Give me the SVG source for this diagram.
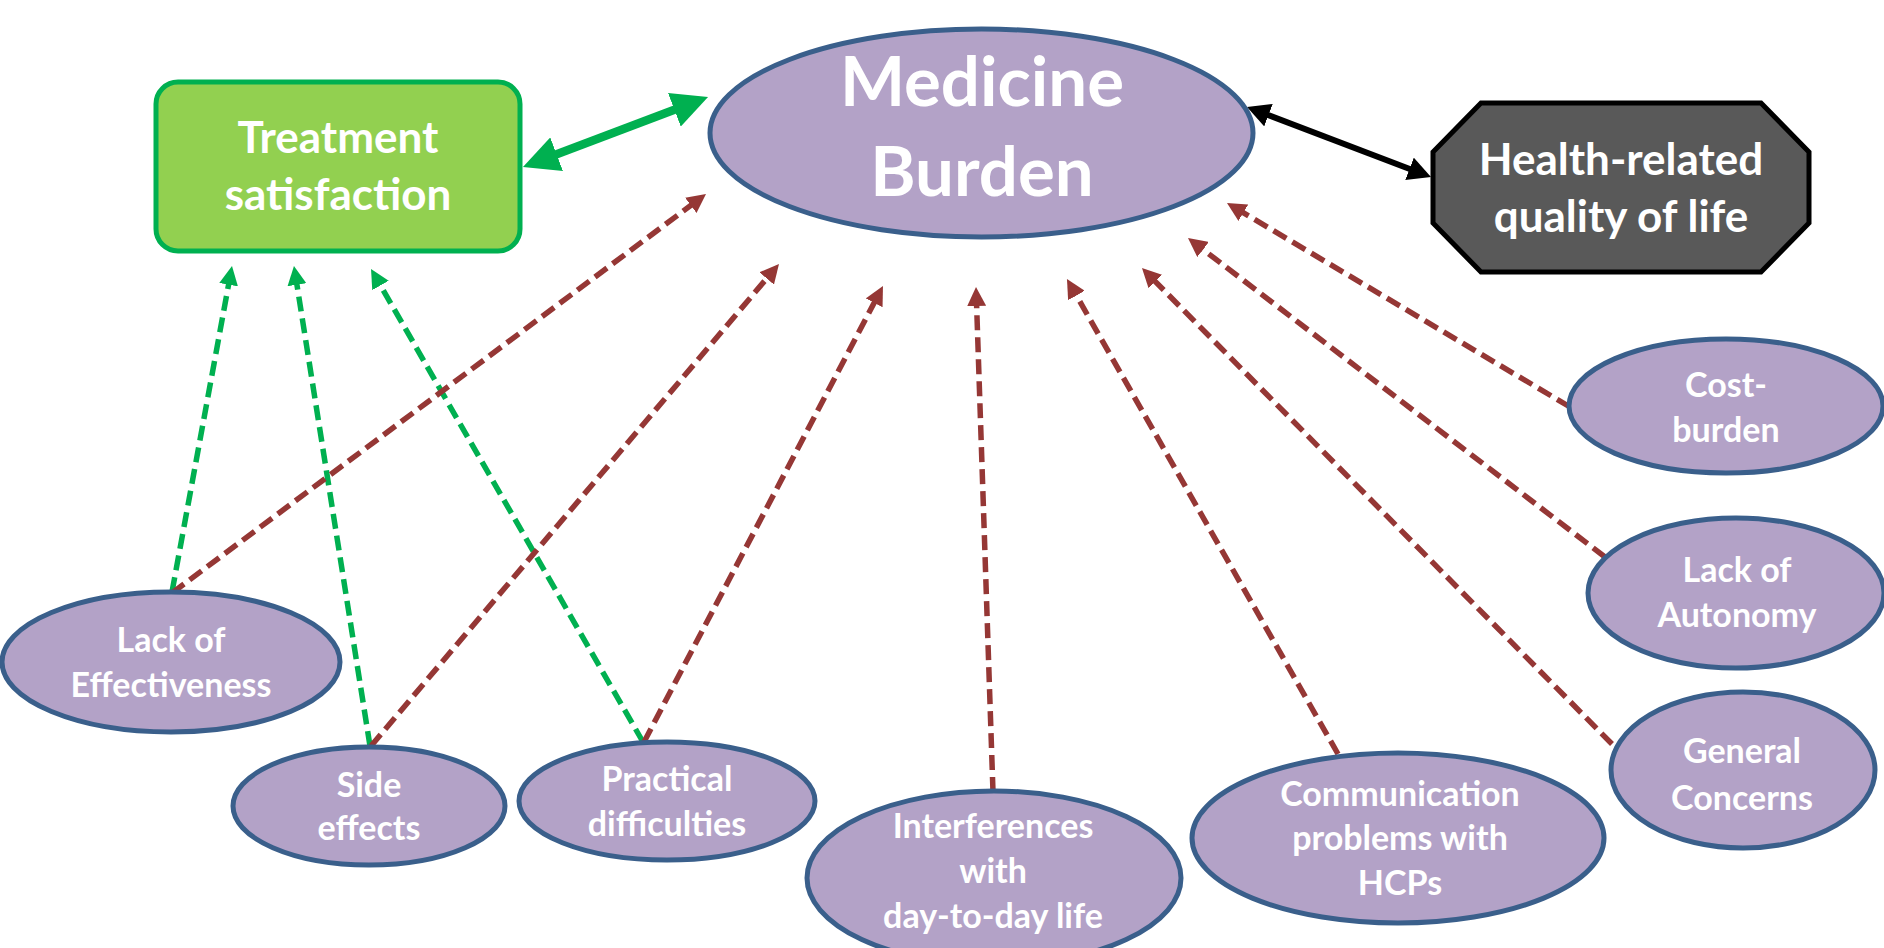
<svg xmlns="http://www.w3.org/2000/svg" width="1884" height="948" viewBox="0 0 1884 948">
<style>
  .node ellipse { fill: #b3a2c7; stroke: #3a5f8b; stroke-width: 5; }
  .lbl { font-family: Lato, "Open Sans", "Liberation Sans", sans-serif; font-weight: bold; fill: #ffffff; text-anchor: middle; }
  .sm { font-size: 34px; }
  .md { font-size: 44px; }
  .lg { font-size: 69px; }
  .dashB { fill: none; stroke: #953735; stroke-width: 5.5; stroke-dasharray: 15 7; marker-end: url(#headB); }
  .dashG { fill: none; stroke: #00b050; stroke-width: 5.5; stroke-dasharray: 15 7; marker-end: url(#headG); }
</style>
<defs>
  <marker id="headB" markerUnits="userSpaceOnUse" markerWidth="19" markerHeight="19" viewBox="0 0 19 19" refX="4" refY="9.5" orient="auto">
    <path d="M0,0 L19,9.5 L0,19 z" fill="#953735"/>
  </marker>
  <marker id="headG" markerUnits="userSpaceOnUse" markerWidth="19" markerHeight="19" viewBox="0 0 19 19" refX="4" refY="9.5" orient="auto">
    <path d="M0,0 L19,9.5 L0,19 z" fill="#00b050"/>
  </marker>
  <marker id="headGreenBig" markerUnits="userSpaceOnUse" markerWidth="36" markerHeight="36" viewBox="0 0 36 36" refX="12" refY="18" orient="auto-start-reverse">
    <path d="M0,0 L36,18 L0,36 z" fill="#00b050"/>
  </marker>
  <marker id="headBlack" markerUnits="userSpaceOnUse" markerWidth="23" markerHeight="24" viewBox="0 0 23 24" refX="8" refY="12" orient="auto-start-reverse">
    <path d="M0,0 L23,12 L0,24 z" fill="#000000"/>
  </marker>
</defs>
<rect width="1884" height="948" fill="#ffffff"/>

<g id="connectors">
  <line x1="545.4" y1="158.5" x2="685.6" y2="105.5" stroke="#00b050" stroke-width="8.5" marker-start="url(#headGreenBig)" marker-end="url(#headGreenBig)"/>
  <line x1="1261" y1="112.3" x2="1417" y2="171.7" stroke="#000000" stroke-width="6" marker-start="url(#headBlack)" marker-end="url(#headBlack)"/>
  <line class="dashG" x1="172" y1="592" x2="229.3" y2="280.7"/>
  <line class="dashG" x1="370" y1="746" x2="296.3" y2="280.8"/>
  <line class="dashG" x1="643" y1="742" x2="378.5" y2="282"/>
  <line class="dashB" x1="172" y1="593" x2="694" y2="203"/>
  <line class="dashB" x1="371" y1="746" x2="769.3" y2="275.4"/>
  <line class="dashB" x1="644" y1="742" x2="876" y2="299.3"/>
  <line class="dashB" x1="993" y1="792" x2="976.5" y2="302"/>
  <line class="dashB" x1="1338" y1="754" x2="1074.4" y2="292"/>
  <line class="dashB" x1="1612" y1="744" x2="1152.5" y2="278.7"/>
  <line class="dashB" x1="1605" y1="557" x2="1199.9" y2="247.1"/>
  <line class="dashB" x1="1570" y1="407" x2="1239.9" y2="210.7"/>
</g>

<g id="medicine-burden" class="node">
  <ellipse cx="981.5" cy="133" rx="271.5" ry="104"/>
  <text class="lbl lg" x="982" y="106">Medicine</text>
  <text class="lbl lg" x="982" y="196">Burden</text>
</g>

<g id="treatment-satisfaction">
  <rect x="156" y="82" width="364" height="169" rx="22" ry="22" fill="#92d050" stroke="#00b050" stroke-width="5"/>
  <text class="lbl md" x="338" y="153">Treatment</text>
  <text class="lbl md" x="338" y="210">satisfaction</text>
</g>

<g id="hrqol">
  <polygon points="1481,103 1761,103 1809,152 1809,223 1761,272 1481,272 1433,223 1433,152" fill="#595959" stroke="#000000" stroke-width="5"/>
  <text class="lbl md" x="1621" y="175">Health-related</text>
  <text class="lbl md" x="1621" y="232">quality of life</text>
</g>

<g id="lack-of-effectiveness" class="node">
  <ellipse cx="171" cy="662" rx="169" ry="70"/>
  <text class="lbl sm" x="171" y="652">Lack of</text>
  <text class="lbl sm" x="171" y="697">Effectiveness</text>
</g>

<g id="side-effects" class="node">
  <ellipse cx="369" cy="806" rx="136" ry="59"/>
  <text class="lbl sm" x="369" y="797">Side</text>
  <text class="lbl sm" x="369" y="840">effects</text>
</g>

<g id="practical-difficulties" class="node">
  <ellipse cx="667" cy="801" rx="148" ry="59"/>
  <text class="lbl sm" x="667" y="791">Practical</text>
  <text class="lbl sm" x="667" y="836">difficulties</text>
</g>

<g id="interferences" class="node">
  <ellipse cx="994" cy="878" rx="187" ry="87"/>
  <text class="lbl sm" x="993" y="838">Interferences</text>
  <text class="lbl sm" x="993" y="883">with</text>
  <text class="lbl sm" x="993" y="928">day-to-day life</text>
</g>

<g id="communication" class="node">
  <ellipse cx="1398" cy="838" rx="206" ry="85"/>
  <text class="lbl sm" x="1400" y="806">Communication</text>
  <text class="lbl sm" x="1400" y="850">problems with</text>
  <text class="lbl sm" x="1400" y="895">HCPs</text>
</g>

<g id="general-concerns" class="node">
  <ellipse cx="1743" cy="770" rx="132" ry="78"/>
  <text class="lbl sm" x="1742" y="763">General</text>
  <text class="lbl sm" x="1742" y="810">Concerns</text>
</g>

<g id="lack-of-autonomy" class="node">
  <ellipse cx="1736" cy="593" rx="148" ry="75"/>
  <text class="lbl sm" x="1737" y="582">Lack of</text>
  <text class="lbl sm" x="1737" y="627">Autonomy</text>
</g>

<g id="cost-burden" class="node">
  <ellipse cx="1726" cy="406" rx="157" ry="67"/>
  <text class="lbl sm" x="1726" y="397">Cost-</text>
  <text class="lbl sm" x="1726" y="442">burden</text>
</g>
</svg>
